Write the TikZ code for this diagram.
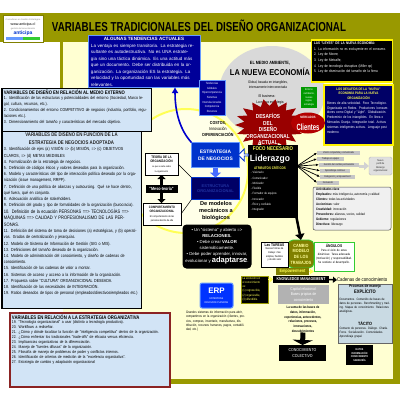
\documentclass[tikz,border=0pt]{standalone}
\usepackage{fontspec}
\setmainfont{Liberation Sans}
\newfontfamily\narrow{Liberation Sans}[FakeStretch=0.82]
\usetikzlibrary{shapes.geometric,shapes.arrows,arrows.meta,calc}
\definecolor{cOlive}{HTML}{999900}
\definecolor{cOliveD}{HTML}{808000}
\definecolor{cCream}{HTML}{FFFFD2}
\definecolor{cPale}{HTML}{FFFFE8}
\definecolor{cYel}{HTML}{FFFF55}
\definecolor{cLBlue}{HTML}{D2E4F6}
\definecolor{cNavy}{HTML}{000099}
\definecolor{cNavyD}{HTML}{000066}
\definecolor{cBlue}{HTML}{0033CC}
\definecolor{cBlueL}{HTML}{6699FF}
\definecolor{cBlueDk}{HTML}{0000CC}
\definecolor{cNavyTxt}{HTML}{2233A0}
\definecolor{cGrey}{HTML}{D9D9D9}
\definecolor{cStar}{HTML}{990000}
\definecolor{cRed}{HTML}{B30000}
\definecolor{cGreen}{HTML}{009900}
\definecolor{cGreenL}{HTML}{33CC33}
\definecolor{cDRed}{HTML}{8B2323}
\definecolor{cSteel}{HTML}{C9DAE3}
\definecolor{cERP}{HTML}{0033FF}
\newcommand{\myfs}[2]{\fontsize{#1}{#2}\selectfont}
\begin{document}
\begin{tikzpicture}[x=1pt,y=-1pt,
  every node/.style={inner sep=0pt,outer sep=0pt},
  nw/.style={anchor=north west},
  lbox/.style={nw,fill=cLBlue,draw=black,line width=1pt},
  wbox/.style={nw,fill=white,draw=black,line width=0.6pt},
  blk/.style={nw,fill=black},
  fanarr/.style={-{Latex[length=3pt,width=2.5pt]},line width=0.7pt},
  hl/.style={nw,fill=gray!45,text=gray!20!black,font=\narrow\myfs{2.6}{3},minimum height=3.5pt,inner xsep=1pt}
]
\useasboundingbox (0,0) rectangle (400,400);
\fill[white] (0,0) rectangle (400,400);
\fill[cCream] (63,42) rectangle (393,379);
\fill[cOlive] (0,13) rectangle (400,42);
\fill[cOlive] (393,42) rectangle (400,384);
\fill[cOlive] (170,379) rectangle (400,384);
\fill[cOlive] (60,42) rectangle (63,88);

% logo
\node[nw,fill=white,draw=cOliveD,line width=0.5pt,minimum width=40pt,minimum height=27pt] (logo) at (3,15) {};
\node[font=\myfs{2.2}{2.6},text=gray] (logo1) at (23,19.5) {Consultores en Gestión Estratégica};
\node[font=\myfs{3.6}{4}] (logo2) at (23,24.5) {www.anticipa.cl};
\node[font=\myfs{2.2}{2.6},text=gray] (logo3) at (23,28.5) {gestión del conocimiento};
\node[font=\bfseries\myfs{5}{5.5},text=cBlue] (logo4) at (23,33) {anticipa};
\fill[cBlueL] (6,36.5) rectangle (23,39.5);
\fill[cGreenL] (23,36.5) rectangle (40,39.5);

% title
\node[anchor=base west] (title) at (52,31.7) {\resizebox{294pt}{\height}{\bfseries\myfs{13}{14}VARIABLES TRADICIONALES DEL DISEÑO ORGANIZACIONAL}};

% background circles
\fill[cGrey] (272,92) ellipse [x radius=53pt,y radius=46pt];
\draw[cYel,line width=2pt,fill=cPale] (186,171) circle [radius=62pt];

% tendencias actuales
\node[nw,fill=cNavy,draw=cBlueL,line width=0.5pt,minimum width=112pt,minimum height=52pt] (tend) at (88,35) {};
\node[anchor=north,font=\bfseries\myfs{4.6}{5},text=white] (tendT) at (144,37) {ALGUNAS TENDENCIAS ACTUALES};
\node[nw,text width=106pt,font=\myfs{4.5}{6.5},text=white] (tendB) at (91,44) {La ventaja es siempre transitoria. La estrategia resultante es autodestructiva. No es UNA estrategia sino una táctica dinámica. Es una actitud más que un documento. Debe ser distribuida en la organización. La organización ES la estrategia. La velocidad y la oportunidad son las variables más relevantes.};

% left boxes
\node[lbox,minimum width=149pt,minimum height=43pt] (ext) at (2,88) {};
\node[nw,font=\narrow\bfseries\myfs{5.1}{6}] (extT) at (4,89.5) {VARIABLES DE DISEÑO EN RELACIÓN AL MEDIO EXTERNO};
\node[nw,text width=143pt,font=\narrow\myfs{4.3}{5.9}] (extB) at (4,96.5) {1. Identificación de las estructuras y potencialidades del entorno (Sociedad, Marco legal, cultura, recursos, etc.).\par 2. Condicionamientos del entorno COMPETITIVO de negocios (industria, portfolio, regulaciones etc.).\par 3. Dimensionamiento del tamaño y características del mercado objetivo.};

\node[lbox,minimum width=139pt,minimum height=177pt] (neg) at (2,131) {};
\node[anchor=north,align=center,font=\narrow\bfseries\myfs{5.3}{7.5},text=black!85] (negT) at (71.5,132) {VARIABLES DE DISEÑO EN FUNCIÓN DE LA\\ESTRATEGIA DE NEGOCIOS ADOPTADA};
\node[nw,text width=134pt,font=\narrow\myfs{4.4}{6.2}] (negB) at (4,147) {3. Identificación de ejes (a) VISIÓN => (b) MISIÓN, => (c) OBJETIVOS CLAROS, => (d) METAS MEDIBLES\par
4. Formalización de la estrategia de negocios.\par
5. Definición de códigos éticos y valores deseados para la organización.\par
6. Modelo y características del tipo de interacción política deseado por la organización (issue management, RRPP).\par
7. Definición de una política de alianzas y outsourcing. Qué se hace dentro, qué fuera, qué en conjunto.\par
8. Adecuación analítica de stakeholders.\par
9. Definición del grado y tipo de formalidades de la organización (burocracia).\par
{\myfs{4.9}{6.6}10. Definición de la ecuación PERSONAS ==> TECNOLOGÍAS ==> MÁQUINAS ==> CALIDAD Y PROFESIONALISMO DE LAS PERSONAS.\par}
11. Definición del sistema de toma de decisiones (a) estratégicas, y (b) operativas. Grados de centralización y jerarquías.\par
12. Modelo de Sistema de Información de Gestión (SIG o MIS).\par
13. Definiciones del tamaño deseado de la organización.\par
14. Modelo de administración del conocimiento, y diseño de cadenas de conocimiento.\par
15. Identificación de las cadenas de valor a montar.\par
16. Sistemas de acceso y acceso a la información de la organización.\par
17. Propuesta sobre "CULTURA" ORGANIZACIONAL DESEADA.\par
18. Identificación de las necesidades de INTEGRACIÓN.\par
19. Ratios deseados de tipos de personal (empleados/directivos/empleados etc.)};

\node[lbox,draw=cDRed,line width=1.5pt,minimum width=160pt,minimum height=74pt] (org) at (10,313) {};
\node[nw,font=\narrow\bfseries\myfs{5.2}{6}] (orgT) at (12,314.5) {VARIABLES EN RELACIÓN A LA ESTRATEGIA ORGANIZATIVA};
\node[nw,text width=155pt,font=\narrow\myfs{4.1}{4.95}] (orgB) at (12,320.5) {19. "Tecnología organizacional" a usar (distinto a tecnología productiva).\par
20. Workflows a rediseñar.\par
21. ¿Cómo y dónde localizar la función de "inteligencia competitiva" dentro de la organización.\par
22. ¿Cómo enfrentar los tradicionales "trade-offs" de eficacia versus eficiencia.\par
23. Implicancias organizativas de la diferenciación.\par
24. Manejo de "fuentes difusas" de la organización.\par
25. Filosofía de manejo de problemas de poder y conflictos internos.\par
26. Identificación de criterios de medición de la "excelencia organizativa".\par
27. Estrategia de cambio y adaptación organizacional};

% medio ambiente
\node[font=\narrow\bfseries\myfs{4.6}{5}] (medio) at (270,63) {EL MEDIO AMBIENTE,};
\node[font=\bfseries\myfs{8.5}{9}] (nueva) at (270,72) {\resizebox{80pt}{\height}{LA NUEVA ECONOMÍA}};
\node[align=center,font=\narrow\myfs{3.6}{5}] (glob) at (268,84.5) {Global, basada en intangibles,\\intensamente interconectada};
\node[font=\narrow\myfs{3.8}{4}] (bus) at (267,96) {El business:};
\node[font=\narrow\myfs{3.8}{4}] (estrat) at (270,103) {La nueva estrategia};

\node[nw,fill=cNavy,draw=cBlueL,line width=0.4pt,minimum width=26pt,minimum height=35pt] (tglob) at (199,80) {};
\node[align=center,text=white,font=\narrow\myfs{3}{4.6}] (tglobT) at (212,97.5) {Tendencias\\Globales\\Hipercompetencia\\Sistemas\\Interrelacionados\\Competencia\\Recursos};

\node[align=center,font=\narrow\myfs{4.4}{6.4}] (costos) at (218,129) {\textbf{COSTOS,}\\Innovación\\\textbf{DIFERENCIACIÓN}};

% green, leyes, desafios economia
\node[nw,fill=cGreen,text=white,minimum width=16pt,minimum height=21pt,align=center,font=\narrow\myfs{2.7}{3.6}] (verde) at (301,87) {Entorno\\cambiante,\\nuevas\\reglas,\\estrategia};
\node[blk,draw=yellow,line width=1.2pt,minimum width=81pt,minimum height=42pt] (leyes) at (311.5,40) {};
\node[nw,text width=76pt,text=white,font=\narrow\myfs{3.7}{5.6}] (leyesT) at (314,41.5) {{\bfseries LAS "LEYES" DE LA NUEVA ECONOMÍA:}\par 1. La información no es excluyente en el consumo.\par 2. Ley de Moore,\par 3. Ley de Metcalfe,\par 4. Ley de tecnología disruptiva (Miller op)\par 5. Ley de disminución del tamaño de la firma};
\node[nw,fill=cNavyD,draw=yellow,line width=1.2pt,minimum width=69pt,minimum height=60pt] (deseco) at (324,85) {};
\node[anchor=north,align=center,text=cYel,font=\narrow\bfseries\myfs{3.5}{4.6}] (desecoT) at (358.5,87) {LOS DESAFÍOS DE LA "NUEVA"\\ECONOMÍA PARA LA NUEVA\\ORGANIZACIÓN};
\node[nw,text width=64pt,text=white,font=\narrow\myfs{3.6}{4.9}] (desecoB) at (327,101.5) {Bienes de alta velocidad. Foco Tecnológico. Organizada en Redes. Productores /consumidores como Digital y "Light". Globalización. Predominio de los intangibles. En línea o Mercados Granja. Integración total. Activos sistemas inteligentes activos. Lenguaje post moderno.};

% star
\fill[cStar] (304,125) \foreach \i in {1,...,35}{ -- ({269.5+(34.5-9*mod(\i,2))*cos(\i*360/36)},{125+(26-7*mod(\i,2))*sin(\i*360/36)}) } -- cycle;
\node[align=center,text=white,font=\narrow\bfseries\myfs{5.8}{6.5}] (desaf) at (268,129) {DESAFÍOS\\DEL\\DISEÑO\\ORGANIZACIONAL\\ACTUAL};
\node[ellipse,fill=cRed,minimum width=34pt,minimum height=21pt] (cli) at (308,123) {};
\node[align=center,text=white] (cliT) at (308,123.5) {{\narrow\bfseries\myfs{3.2}{3.6}MERCADOS}\\[0.6pt]\resizebox{23pt}{\height}{\bfseries\myfs{9}{9}Clientes}};

% estrategia
\node[fill=cBlue,draw=cBlueL,line width=1.2pt,minimum width=48pt,minimum height=25pt,align=center,text=white,font=\bfseries\myfs{4.9}{7}] (estr) at (215.5,155) {ESTRATEGIA\\DE NEGOCIOS};
\node[fill=cNavyD,draw=cBlue,line width=1pt,minimum width=48pt,minimum height=22pt,align=center,text=cNavyTxt,font=\bfseries\myfs{4}{5.5}] (navy) at (215.5,188.5) {ESTRUCTURA\\ORGANIZACIONAL};
\draw[-{Triangle[length=5pt,width=11pt]},line width=4.5pt,cBlueL!70!blue] (estr.south) -- (navy.north);
\coordinate (tendTip) at ($(tend.south west)!0.777!(tend.south east)$);
\draw[cBlueDk,line width=1.6pt,-{Latex[length=6pt,width=7pt]}] (estr.north west) .. controls (180,130) and (175,112) .. (tendTip);

% teoria
\node[wbox,minimum width=33pt,minimum height=22pt] (teo) at (145,153) {};
\node[align=center,font=\narrow\myfs{3.5}{4.2}] (teoT) at (161.5,164) {\textbf{TEORÍA DE LA}\\\textbf{ORGANIZACIÓN}\\[0.8pt]{\myfs{2.4}{3}Lo que se sabe sobre}\\{\myfs{2.4}{3}la organización}};
\node[wbox,minimum width=38pt,minimum height=22pt] (comp) at (143,203) {};
\node[align=center,font=\narrow\myfs{3.3}{4}] (compT) at (162,214) {\textbf{COMPORTAMIENTO}\\\textbf{ORGANIZACIONAL}\\[1pt]{\myfs{2.6}{3.2}El comportamiento de las}\\{\myfs{2.6}{3.2}personas dentro de ella}};
\draw[{Triangle[length=4pt,width=8pt]}-{Triangle[length=4pt,width=8pt]},line width=2.5pt] (teo.south) -- (teo.south |- comp.north);
\node[fill=black,text=white,minimum width=32pt,minimum height=8pt,font=\narrow\bfseries\myfs{4.5}{5}] (meso) at (161.5,189) {"Meso-teoría"};
\draw[line width=0.5pt] (teo.east) -- (navy.north west);
\draw[line width=0.5pt] (comp.east) -- (navy.south west);

\node[align=center,font=\bfseries\myfs{5.6}{6.6}] (demod) at (216,211) {De modelos\\mecánicos a\\biológicos};

% sistema
\node[nw,fill=black,rounded corners=4pt,minimum width=69pt,minimum height=44pt] (sis) at (182.5,224.5) {};
\node[align=center,text=white,font=\myfs{4.3}{6}] (sisT) at (217,246.5) {• Un "sistema" y abierto =>\\\textbf{RELACIONES.}\\• Debe crear \textbf{VALOR}\\sistemáticamente.\\• Debe poder aprender, innovar,\\evolucionar y {\bfseries\myfs{7.5}{8}adaptarse}.};

% foco
\node[blk,minimum width=50pt,minimum height=73pt] (foco) at (248,145) {};
\node[font=\narrow\bfseries\myfs{5.4}{6},text=cYel] (focoT) at (273,148.5) {FOCO NECESARIO};
\node[font=\bfseries\myfs{9}{10},text=white] (lid) at (270,159.5) {\resizebox{40pt}{\height}{Liderazgo}};
\node[font=\narrow\bfseries\myfs{3.6}{4},text=cYel] (atr) at (270,167.5) {ATRIBUTOS CRÍTICOS};
\node[nw,text=white,font=\narrow\myfs{3.1}{5.3},align=left] (atrL) at (251,171.5) {- Visionario\\- Comunicador\\- Motivador\\- Flexible\\- Formador de equipos\\- Innovador\\- Ético y confiable\\- Integrador};
\node[single arrow,draw=cBlue,fill=white,line width=0.8pt,shape border rotate=180,minimum height=10pt,minimum width=12pt,single arrow head extend=2pt] (warr) at ($(estr.east)!0.5!(estr.east -| foco.west)$) {};

% fan
\coordinate (fan) at (297,166);
\node[hl,minimum width=43pt] (h1) at (317,151) {Visión compartida y comunicada};
\node[hl,minimum width=27pt] (h2) at (317,157) {Trabajo en equipo};
\node[hl,minimum width=40pt] (h3) at (319,163) {Gestión del cambio permanente};
\node[hl,minimum width=30pt] (h4) at (320,169) {Aprendizaje continuo};
\node[hl,minimum width=35pt] (h5) at (320,175) {Delegación y empowerment};
\node[hl,minimum width=22pt] (h6) at (317,181) {Innovación};
\foreach \h in {h1,h2,h3,h4,h5,h6}{\draw[fanarr] (fan) -- (\h.west);}
\node[fill=gray!25,draw=gray!55,rounded corners=1.5pt,minimum width=23pt,minimum height=18pt,align=center,font=\narrow\myfs{2.6}{3.4},text=gray!30!black] (rbox) at (380.5,166) {Nuevo\\perfil de\\liderazgo\\organizacional};
\coordinate (gst) at (359,166);
\draw[gray!35,line width=3pt,-{Triangle[length=5pt,width=8pt]}] (gst) -- (rbox.west);

% actividades
\node[nw,fill=gray!12,draw=gray!60!black,line width=0.5pt,rounded corners=2pt,minimum width=78pt,minimum height=43pt] (act) at (313,187) {};
\node[nw,align=left,font=\narrow\myfs{3.4}{5}] (actT) at (316,188.5) {\textbf{Actividades clave}\\\textbf{Empleados:} más inteligencia, autonomía y calidad\\\textbf{Clientes:} todas las actividades\\\textbf{Accionistas:} valor\\\textbf{Creatividad:} innovación\\\textbf{Proveedores:} alianzas, socios, calidad\\\textbf{Gobierno:} regulaciones\\\textbf{Directivos:} liderazgo};

% cambio
\node[fill=cOliveD,draw=cGreenL,line width=0.8pt,rounded corners=5pt,minimum width=26pt,minimum height=28pt,align=center,text=cYel!60!white,font=\narrow\bfseries\myfs{4.6}{5.7}] (cambio) at (301,254) {CAMBIO\\MODELO\\DE LOS\\TRABAJOS};
\draw[line width=2.5pt,-{Triangle[length=6pt,width=9pt]}] ($(foco.south east)+(-3,-8)$) -- (cambio.north);
\node[wbox,minimum width=27pt,minimum height=25pt] (tar) at (261,242) {};
\node[anchor=north,align=center,font=\narrow\myfs{2.7}{3.6}] (tarT) at (274.5,243.5) {{\bfseries\myfs{4}{5}Las TAREAS}\\Nuevas formas de\\trabajo: más\\amplias, flexibles\\y de alto valor};
\node[wbox,draw=cGreenL,line width=0.8pt,minimum width=40pt,minimum height=29pt] (ang) at (314,242) {};
\node[anchor=north,align=center,text width=37pt,font=\narrow\myfs{3.1}{4.2}] (angT) at (334,243.5) {{\bfseries\myfs{4}{5}ÁNGULOS}\\Para el éxito de estas dinámicas: Tarea adecuada (motivación) y responsabilidad. Se sostiene el desempeño.};
\node[nw,fill=cOliveD,text=cYel,minimum width=33pt,minimum height=7pt,font=\narrow\bfseries\myfs{4.6}{5}] (emp) at (276,268) {Empowerment};
\draw[cYel,line width=1.5pt,-{Triangle[length=4pt,width=5pt]}] (emp.east) -- (emp.east -| ang.west);

% knowledge
\node[blk,draw=cOlive,line width=0.5pt,minimum width=27pt,minimum height=27pt] (evo) at (241,276) {};
\node[nw,align=left,text=cYel,font=\narrow\myfs{3.1}{4.2}] (evoT) at (242.5,277) {La evolución en\\el conocimiento\\es:\\(1) cognoscible,\\(2) organizable,\\(3) difundible.};
\node[blk,minimum width=56pt,minimum height=7pt,text=white,font=\narrow\bfseries\myfs{4.2}{5}] (km) at (273,276) {KNOWLEDGE MANAGEMENT};
\draw[cYel,line width=1.8pt,-{Triangle[length=3.5pt,width=6pt]}] (evo.east |- km.west) -- (km.west);
\node[anchor=west,font=\narrow\myfs{5.3}{5.5}] (cad) at (337,280) {Cadenas de conocimiento};
\draw[line width=1.5pt,-{Triangle[length=4pt,width=6pt]}] (km.east) -- (cad.west);
\node[nw,fill=gray!60,text=white,minimum width=51pt,minimum height=19pt,align=center,font=\narrow\myfs{4}{5.5}] (cap) at (278,285) {Capital relacional:\\Bases propias de\\conocimiento};
\node[anchor=north,align=center,font=\narrow\bfseries\myfs{3.4}{4.8}] (suma) at (303,306) {La suma de las bases de\\datos, información,\\experiencias, antecedentes,\\relaciones, procesos,\\innovaciones,\\descubrimientos};
\node[blk,minimum width=47pt,minimum height=16pt,text=white,align=center,font=\narrow\myfs{4.3}{5.5}] (colec) at (279,345) {CONOCIMIENTO\\COLECTIVO};
\draw[line width=5pt,-{Triangle[length=5pt,width=20pt]}] (suma.south) -- (colec.north);

\node[nw,fill=cSteel,draw=black!60,line width=0.6pt,minimum width=54pt,minimum height=59pt] (expl) at (338,284) {};
\node[anchor=north,align=center,font=\narrow\bfseries\myfs{4}{5.5}] (explT) at (365,285) {Procesos de manejo\\{\myfs{5}{6}EXPLÍCITO}};
\node[nw,text width=51pt,font=\narrow\myfs{3.2}{4.1}] (explB) at (339.5,298) {Documentos. Contenido de bases de datos de personas. Benchmarking y trading. Mapas de conocimiento. Relaciones analógicas.};
\node[anchor=north,font=\narrow\bfseries\myfs{4.6}{5}] (tac) at (365,321) {TÁCITO};
\node[nw,text width=51pt,font=\narrow\myfs{3.2}{4.1}] (tacB) at (339.5,327) {Contacto de personas. Diálogo. Charla. Foros. Socialización. Comunidades. Aprendizaje grupal.};
\node[blk,minimum width=27pt,minimum height=20pt,text=white,align=center,font=\narrow\bfseries\myfs{2.7}{3.6}] (datos) at (346,345) {DATOS\\INFORMACIÓN\\CONOCIMIENTO\\SABIDURÍA};

% ERP
\node[nw,fill=cERP,draw=cBlueL,line width=1pt,rounded corners=2pt,minimum width=33pt,minimum height=25pt] (erp) at (200,283) {};
\node[font=\bfseries\myfs{8}{9},text=white] (erpT) at (216.5,290.5) {ERP};
\node[align=center,font=\narrow\myfs{2.6}{3.3},text=white] (erpS) at (216.5,300.5) {ENTERPRISE\\RESOURCE PLANNING};
\node[anchor=north,text width=60pt,font=\narrow\myfs{3.4}{4.3}] (erpTxt) at (216,311) {Grandes sistemas de información para abrir, compartimos en la organización (clientes, precios, compras, inventario, manufactura, distribución, recursos humanos, pagos, contabilidad, etc.)};
\end{tikzpicture}
\end{document}
